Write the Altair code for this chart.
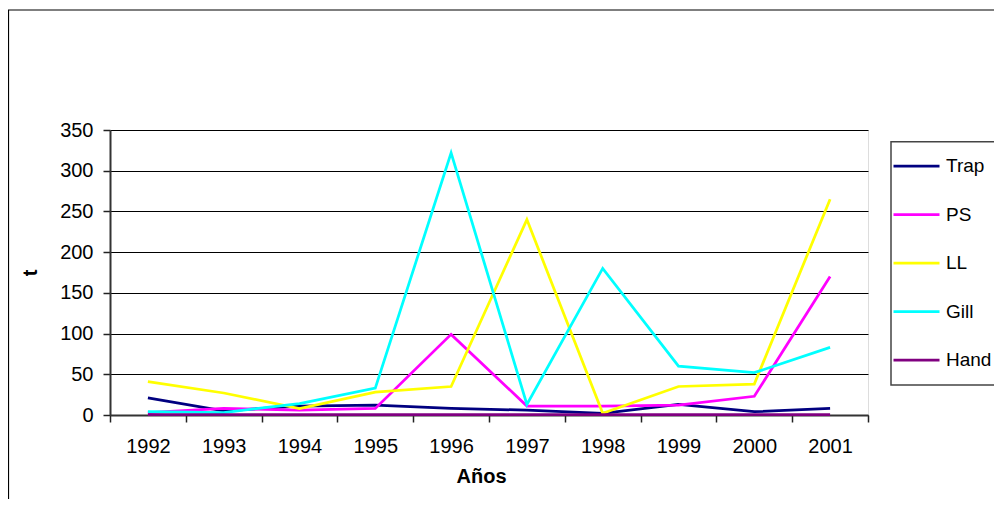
import altair as alt
import pandas as pd

years = ["1992", "1993", "1994", "1995", "1996", "1997", "1998", "1999", "2000", "2001"]
series_names = ["Trap", "PS", "LL", "Gill", "Hand"]
trap = [21, 5, 11, 12, 8, 6, 2, 13, 4, 8]
ps = [3, 8, 6, 8, 99, 11, 11, 12, 23, 170]
ll = [41, 27, 8, 28, 35, 240, 2, 35, 38, 265]
gill = [4, 3, 14, 33, 322, 13, 180, 60, 52, 83]
hand = [0.5, 0.5, 0.5, 0.5, 0.5, 0.5, 0.5, 0.5, 0.5, 0.5]
colors = ["#000080", "#FF00FF", "#FFFF00", "#00FFFF", "#800080"]

rows = []
for name, vals in zip(series_names, [trap, ps, ll, gill, hand]):
    for y, v in zip(years, vals):
        rows.append({"Año": y, "t": v, "Serie": name})
df = pd.DataFrame(rows)

FONT = "Liberation Sans"
W, H = 758, 285
FS = 20

lines = alt.Chart(df).mark_line(strokeWidth=2.75).encode(
    x=alt.X("Año:O", bandPosition=0.5,
            scale=alt.Scale(type="band", domain=years, paddingInner=0, paddingOuter=0),
            axis=alt.Axis(title="Años", titleFontSize=FS, titleFont=FONT, titleFontWeight="bold",
                          titleColor="#000", titleX=371, titleY=61, titleBaseline="middle",
                          titleAlign="center",
                          labelFontSize=FS, labelFont=FONT, labelColor="#000", labelAngle=0,
                          labelPadding=14, tickSize=7, tickColor="#222", tickWidth=1.5,
                          tickBand="extent", domainColor="#333", domainWidth=2, grid=False)),
    y=alt.Y("t:Q", scale=alt.Scale(domain=[0, 350], nice=False),
            axis=alt.Axis(title="t", titleFontSize=FS, titleFont=FONT, titleFontWeight="bold",
                          titleColor="#000", titleX=-80, titleY=142.5, titleAngle=270,
                          titleAlign="center", titleBaseline="middle",
                          values=[0, 50, 100, 150, 200, 250, 300, 350],
                          labelFontSize=FS, labelFont=FONT, labelColor="#000",
                          labelPadding=10, tickSize=7, tickColor="#222", tickWidth=1.5,
                          domainColor="#333", domainWidth=2,
                          grid=True, gridColor="#000", gridWidth=1.2)),
    color=alt.Color("Serie:N", scale=alt.Scale(domain=series_names, range=colors),
                    sort=series_names,
                    legend=alt.Legend(title=None, orient="none", legendX=782, legendY=11.5,
                                      symbolType="stroke", symbolSize=2116, symbolStrokeWidth=2.75,
                                      labelFontSize=19, labelFont=FONT, labelColor="#000",
                                      labelOffset=5, rowPadding=13.5, padding=0)),
)

legend_box = alt.Chart(pd.DataFrame({"a": [0]})).mark_rect(
    fill=None, stroke="#444", strokeWidth=1.5
).encode(x=alt.value(781), x2=alt.value(1000), y=alt.value(11.7), y2=alt.value(255))

frame_top = alt.Chart(pd.DataFrame({"a": [0]})).mark_rule(color="#000", strokeWidth=1.2).encode(
    x=alt.value(-102), x2=alt.value(1000), y=alt.value(-120))
frame_left = alt.Chart(pd.DataFrame({"a": [0]})).mark_rule(color="#000", strokeWidth=1.2).encode(
    x=alt.value(-101.5), y=alt.value(-120), y2=alt.value(400))

chart = alt.layer(frame_top, frame_left, lines, legend_box).properties(
    width=W, height=H,
    autosize=alt.AutoSizeParams(type="none"),
    padding={"left": 102, "top": 122, "right": 126, "bottom": 84},
).configure_view(stroke="#888", strokeWidth=2).configure(background="white")

chart.save("out.html", embed_options={"renderer": "svg", "actions": False})
